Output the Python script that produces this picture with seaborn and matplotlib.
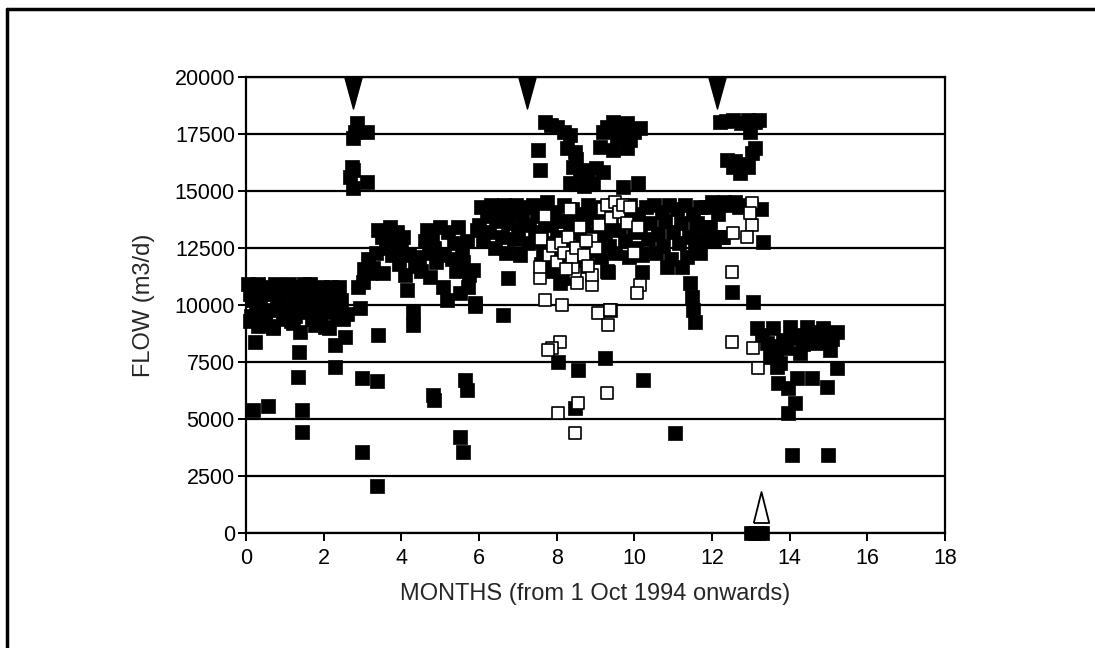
import matplotlib
matplotlib.use("Agg")
import matplotlib.pyplot as plt
from matplotlib.lines import Line2D
import pandas as pd
import seaborn as sns

# ---------------- data (month, flow m3/d) ----------------
winter_cluster = [
    (0.05, 10900), (0.1, 10500), (0.15, 10200), (0.2, 10800), (0.25, 9900), (0.3, 9600),
    (0.35, 10300), (0.4, 9400), (0.5, 9200), (0.55, 10700), (0.6, 9800), (0.7, 9000),
    (0.75, 10900), (0.8, 10400), (0.85, 10000), (0.9, 10800), (1.0, 10600), (1.05, 9700),
    (1.1, 10900), (1.2, 10200), (1.25, 9500), (1.3, 10800), (1.35, 10100), (1.4, 9700),
    (1.5, 10900), (1.55, 10400), (1.6, 9900), (1.7, 9400), (1.75, 10700), (1.8, 10200),
    (1.9, 9300), (1.95, 10800), (2.0, 9700), (2.1, 10000), (2.15, 9000), (2.2, 10800),
    (2.3, 10400), (2.35, 9500), (2.4, 10800), (2.5, 9400), (0.12, 9500), (0.45, 10800),
    (0.65, 10500), (0.95, 9500), (1.15, 9300), (1.45, 10600), (1.65, 10900), (1.85, 9700),
    (2.05, 10500), (2.25, 9800), (2.45, 10200), (0.3, 10900), (1.0, 9400), (2.6, 9600),
    (0.1, 9300), (0.3, 9100), (0.5, 9150), (0.7, 9100), (1.2, 9200), (1.78, 9120),
    (2.03, 9030), (1.4, 8820),
]
early_lows = [
    (0.23, 8380), (1.37, 7940), (2.29, 8250), (2.55, 8600), (3.4, 8680),
    (0.18, 5390), (0.57, 5570), (1.34, 6840), (1.44, 5390), (1.44, 4430), (2.29, 7280),
    (2.99, 6800), (3.37, 6670), (2.99, 3550), (3.37, 2060), (4.82, 6050), (4.85, 5850),
    (5.64, 6710), (5.69, 6270), (5.51, 4210), (5.59, 3550),
]
first_peak = [
    (2.86, 17980), (3.12, 17590), (2.76, 17320), (2.73, 16050), (2.68, 15610),
    (2.76, 15130), (3.12, 15400), (2.8, 17600), (2.75, 15900),
]
autumn_rise = [
    (2.88, 10790), (2.94, 9870), (3.0, 11000), (3.05, 11600), (3.15, 12000), (3.2, 11400),
    (3.27, 11620), (3.35, 12300), (3.4, 13300), (3.5, 13000), (3.53, 11400), (3.6, 12500),
    (3.7, 13400), (3.75, 12200), (3.8, 12900), (3.9, 13200), (3.95, 11800), (4.0, 12400),
    (4.05, 13000), (4.1, 11300), (4.15, 10660), (4.2, 12200), (4.3, 9700), (4.3, 9120),
    (4.35, 11700), (4.45, 12100), (4.5, 11500), (4.6, 12800), (4.65, 13300), (4.7, 12300),
    (4.74, 11230), (4.8, 13000), (4.85, 12500), (4.9, 11900), (5.0, 13400), (5.07, 10790),
    (5.1, 12200), (5.17, 10220), (5.2, 13200), (5.3, 12000), (5.35, 12700), (5.4, 11500),
    (5.45, 13400), (5.51, 10530), (5.55, 12200), (5.6, 11900), (5.7, 12800), (5.75, 11300),
    (5.85, 11530), (5.9, 10090), (5.95, 13300), (5.72, 10790), (5.9, 9960), (6.62, 9560),
    (6.75, 11180),
]
spring_band = [
    (6.0, 13500), (6.05, 14300), (6.1, 12800), (6.2, 13900), (6.25, 13200), (6.3, 14400),
    (6.4, 12500), (6.45, 13700), (6.5, 14200), (6.6, 13000), (6.65, 14400), (6.7, 12300),
    (6.75, 13600), (6.8, 14100), (6.9, 12900), (6.95, 14400), (7.0, 13300), (7.05, 12200),
    (7.1, 13900), (7.2, 14300), (7.25, 12700), (7.3, 13500), (7.4, 14400), (7.45, 12900),
    (7.5, 13900),
]
summer_band = [
    (7.55, 14300), (7.6, 13200), (7.65, 12400), (7.7, 13800), (7.75, 14500), (7.8, 12700),
    (7.85, 13500), (7.9, 12100), (7.95, 14100), (8.0, 13000), (8.05, 11500), (8.1, 13700),
    (8.15, 12300), (8.2, 14400), (8.25, 12900), (8.3, 11900), (8.35, 13600), (8.4, 14200),
    (8.45, 12500), (8.5, 13200), (8.55, 11700), (8.6, 14000), (8.65, 12800), (8.7, 13400),
    (8.75, 12000), (8.8, 14400), (8.85, 13100), (8.9, 12400), (8.95, 13800), (9.0, 14300),
    (9.05, 12700), (9.1, 13400), (9.15, 12100), (9.2, 14100), (9.25, 13000), (9.3, 11500),
    (9.35, 12600), (9.4, 13600), (9.45, 14400), (9.5, 12300), (9.6, 13300), (9.7, 14200),
    (9.75, 12800), (9.8, 13700), (9.85, 12100), (9.9, 14400), (10.0, 13200), (10.05, 12500),
    (10.1, 14000), (10.15, 13500), (10.2, 12200), (10.3, 14300), (10.35, 12900), (10.4, 13600),
    (10.5, 14400), (10.55, 12300), (10.6, 13100), (10.7, 14100), (10.75, 12600), (10.8, 13700),
    (10.9, 14400), (10.95, 12000), (11.0, 13200), (11.1, 14200), (11.15, 12700), (11.2, 13600),
    (11.3, 14400), (11.35, 12100), (11.4, 13000), (11.5, 14000), (11.55, 12400), (11.6, 13500),
    (11.7, 14300), (11.75, 12900), (11.85, 14300), (11.9, 13400), (12.0, 14500), (12.05, 12800),
    (12.15, 14000), (12.25, 13000), (12.3, 14500), (12.45, 14400), (12.6, 14500), (12.7, 14300),
    (12.85, 14400), (13.0, 14300), (13.25, 14200), (13.32, 12780), (11.61, 13590),
    (11.95, 13420), (11.69, 12290), (12.28, 12980),
]
summer_peaks = [
    (7.7, 18030), (8.01, 17810), (8.34, 17460), (7.52, 16800), (8.27, 16890), (8.47, 16710),
    (7.57, 15920), (8.42, 16050), (8.78, 15920), (9.19, 15830), (8.34, 15350), (8.94, 15350),
    (9.71, 15180), (10.1, 15350), (8.6, 15610), (9.45, 18030), (9.81, 17980), (10.15, 17760),
    (9.19, 17590), (9.55, 17370), (9.89, 17240), (9.12, 16930), (9.45, 16800), (9.81, 16890),
    (7.85, 17900), (8.2, 17600), (9.3, 17800), (9.65, 17700), (10.0, 17600), (8.5, 16400),
    (9.0, 16000), (8.7, 15200),
    (12.21, 18030), (12.54, 18110), (12.93, 18110), (13.11, 18030), (12.98, 17590),
    (12.35, 18050), (12.75, 18000), (13.2, 18100), (12.39, 16360), (12.54, 16050),
    (12.72, 15790), (13.03, 16670), (12.93, 16050), (12.6, 16300), (12.8, 16200), (13.1, 16900),
]
summer_lows = [
    (8.09, 10970), (9.32, 11450), (10.2, 11450), (10.84, 11670), (11.23, 11670), (11.43, 10970),
    (11.49, 10350), (11.52, 9780), (11.56, 9250), (9.37, 9780), (8.04, 7500), (8.55, 7150),
    (9.25, 7680), (10.22, 6710), (8.47, 5480), (11.05, 4390), (7.9, 11500), (8.3, 11200),
    (7.6, 11800), (12.51, 10570), (13.06, 10130),
]
late_cluster = [
    (13.16, 8990), (13.57, 8990), (14.01, 9040), (14.45, 9040), (14.86, 8990), (15.22, 8820),
    (13.42, 8330), (13.83, 8460), (14.27, 8550), (14.7, 8330), (15.04, 8030), (13.5, 7720),
    (13.75, 7460), (14.27, 7890), (15.22, 7240), (13.68, 7280), (13.3, 8700), (13.6, 8200),
    (13.9, 8100), (14.1, 8700), (14.35, 8300), (14.55, 8800), (14.8, 8600), (15.1, 8500),
    (13.65, 7900), (13.7, 6580), (13.96, 6360), (14.19, 6800), (14.58, 6800), (14.96, 6400),
    (14.14, 5700), (13.96, 5260), (14.06, 3420), (14.99, 3420),
]
zero_flow = [(13.0, 0), (13.1, 0), (13.2, 0), (13.3, 0)]

open_points = [
    (13.03, 14470), (13.03, 13510), (12.98, 14030), (12.54, 13160), (12.9, 12980),
    (12.51, 11450), (12.51, 8380), (13.06, 8110), (13.19, 7240),
    (7.7, 10220), (8.14, 10000), (9.07, 9650), (9.37, 9780), (9.32, 9120), (10.15, 10880),
    (10.07, 10530), (8.09, 8380), (7.88, 8110), (7.78, 8030), (8.55, 5700), (8.04, 5260),
    (8.47, 4390), (9.3, 6140), (8.47, 11400), (8.52, 10970), (8.91, 10880), (8.91, 11320),
    (7.57, 11180), (7.57, 11670), (8.42, 11670),
    (7.6, 12900), (7.7, 13900), (7.8, 12200), (7.9, 12600), (8.0, 11900), (8.1, 12700),
    (8.2, 12300), (8.3, 13000), (8.4, 12100), (8.5, 12500), (8.6, 13400), (8.7, 12200),
    (8.8, 11700), (8.9, 12900), (9.0, 12500), (9.1, 13500), (9.2, 14200), (9.3, 14400),
    (9.4, 13800), (9.5, 14500), (9.6, 14100), (9.7, 14400), (9.8, 13600), (9.9, 14300),
    (10.0, 12300), (10.1, 13400), (8.35, 14200), (8.25, 11600), (8.75, 12800),
]

event_months = [2.76, 7.24, 12.13]      # filled triangles at the top
event_flow = 19320
open_event_month = [13.27]               # open triangle near zero
open_event_flow = [1120]

x_ticks = list(range(0, 19, 2))
y_ticks = list(range(0, 20001, 2500))

# ---------------- build frames ----------------
filled = pd.DataFrame(winter_cluster + early_lows + first_peak + autumn_rise + spring_band
                      + summer_band + summer_peaks + summer_lows + late_cluster + zero_flow,
                      columns=["month", "flow"])
hollow = pd.DataFrame(open_points, columns=["month", "flow"])

sns.set_style("white")
plt.rcParams["font.family"] = ["Liberation Sans", "DejaVu Sans"]

fig = plt.figure(figsize=(10.95, 6.48), dpi=100)
W, H = 1095, 648
ax = fig.add_axes([246 / W, 1 - 533 / H, (945 - 246) / W, (533 - 77) / H])

sns.scatterplot(data=filled, x="month", y="flow", marker="s", s=95, color="black",
                edgecolor="black", linewidth=0.5, ax=ax, zorder=3, clip_on=False)
sns.scatterplot(data=hollow, x="month", y="flow", marker="s", s=80, facecolor="white",
                edgecolor="black", linewidth=1.2, ax=ax, zorder=4, clip_on=False)

tri_down = [(-0.55, 1.0), (0.55, 1.0), (0.0, -1.0), (-0.55, 1.0)]
tri_up = [(-0.5, -1.0), (0.5, -1.0), (0.0, 1.0), (-0.5, -1.0)]
ax.scatter(event_months, [event_flow] * len(event_months), marker=tri_down, s=(31 * 0.72) ** 2,
           color="black", zorder=5, clip_on=False)
ax.scatter(open_event_month, open_event_flow, marker=tri_up, s=(31 * 0.72) ** 2,
           facecolor="white", edgecolor="black", linewidth=1.3, zorder=5, clip_on=False)

ax.set_xlim(0, 18)
ax.set_ylim(0, 20000)
ax.set_xticks(x_ticks)
ax.set_yticks(y_ticks)
ax.set_xticklabels([str(t) for t in x_ticks])
ax.set_yticklabels([str(t) for t in y_ticks])
ax.yaxis.grid(True, color="black", linewidth=1.6, zorder=1)
ax.xaxis.grid(False)
ax.set_axisbelow(True)
for side in ["left", "right", "bottom", "top"]:
    ax.spines[side].set_visible(True)
    ax.spines[side].set_color("black")
    ax.spines[side].set_linewidth(1.6)
ax.tick_params(axis="both", which="major", direction="out", length=6, width=1.4,
               colors="black", labelsize=15.5,
               bottom=True, left=True, top=False, right=False)
ax.tick_params(axis="x", pad=5)
ax.tick_params(axis="y", pad=2)
ax.set_xlabel("MONTHS (from 1 Oct 1994 onwards)", fontsize=17, labelpad=10)
ax.set_ylabel("FLOW (m3/d)", fontsize=17, labelpad=14)

# outer frame of the scanned figure (left and top edges)
fig.add_artist(Line2D([7 / W, 7 / W], [0, 1 - 9 / H], transform=fig.transFigure,
                      color="black", linewidth=2.5))
fig.add_artist(Line2D([7 / W, 1.0], [1 - 9 / H, 1 - 9 / H], transform=fig.transFigure,
                      color="black", linewidth=2.5))

fig.savefig("out.png", dpi=100, facecolor="white")
